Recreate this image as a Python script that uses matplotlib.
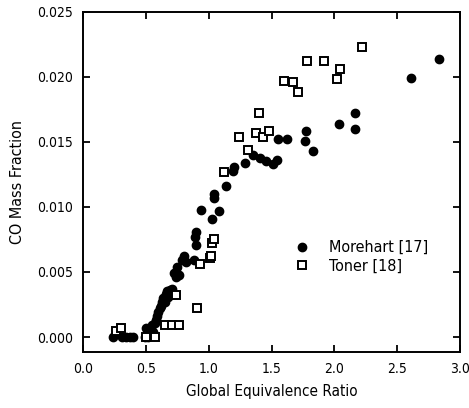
import matplotlib
matplotlib.use("Agg")
import matplotlib.pyplot as plt

# Morehart [17] (filled circles)
morehart_phi = [0.24, 0.31, 0.34, 0.37, 0.40, 0.49, 0.50, 0.51, 0.52, 0.53,
                0.55, 0.56, 0.57, 0.58, 0.59, 0.60, 0.61, 0.62, 0.63, 0.64,
                0.65, 0.66, 0.67, 0.68, 0.69, 0.71, 0.72, 0.74, 0.74, 0.75,
                0.76, 0.79, 0.80, 0.82, 0.88, 0.89, 0.90, 0.90, 0.94, 1.03,
                1.04, 1.045, 1.085, 1.14, 1.19, 1.20, 1.29, 1.355, 1.41, 1.455,
                1.51, 1.54, 1.555, 1.62, 1.765, 1.775, 1.83, 2.04, 2.165, 2.165,
                2.61, 2.83]
morehart_co = [0.0, 0.0, 0.0, 0.0, 0.0, 0.0, 0.0007, 0.0003, 0.0, 0.0006,
               0.0009, 0.0004, 0.0011, 0.0013, 0.0016, 0.0019, 0.0022, 0.0024, 0.0027, 0.0030,
               0.0027, 0.0033, 0.0035, 0.0031, 0.0036, 0.0037, 0.0049, 0.0046, 0.0050, 0.0054,
               0.0048, 0.0059, 0.0062, 0.0058, 0.0059, 0.0077, 0.0081, 0.0071, 0.0098, 0.0091,
               0.0107, 0.0110, 0.0097, 0.0116, 0.0128, 0.0131, 0.0134, 0.0140, 0.0138, 0.0135,
               0.0133, 0.0136, 0.0152, 0.0152, 0.0151, 0.0158, 0.0143, 0.0164, 0.0172, 0.0160,
               0.0199, 0.0214]

# Toner [18] (open squares)
toner_phi = [0.26, 0.30, 0.50, 0.57, 0.65, 0.71, 0.76, 0.74, 0.91, 0.93,
             1.01, 1.02, 1.03, 1.04, 1.12, 1.245, 1.31, 1.375, 1.40, 1.43,
             1.48, 1.60, 1.67, 1.71, 1.78, 1.92, 2.02, 2.045, 2.22]
toner_co = [0.0005, 0.0007, 0.0, 0.0, 0.0009, 0.0009, 0.0009, 0.0032, 0.0022, 0.0056,
            0.0061, 0.0062, 0.0072, 0.0075, 0.0127, 0.0154, 0.0144, 0.0157, 0.0172, 0.0154,
            0.0158, 0.0197, 0.0196, 0.0188, 0.0212, 0.0212, 0.0198, 0.0206, 0.0223]

x_ticks = [0.0, 0.5, 1.0, 1.5, 2.0, 2.5, 3.0]
y_ticks = [0.000, 0.005, 0.010, 0.015, 0.020, 0.025]

plt.rcParams["font.family"] = ["DejaVu Sans"]
plt.rcParams["font.stretch"] = "condensed"

fig = plt.figure(figsize=(4.69, 4.08), dpi=100)
ax = fig.add_axes([0.177, 0.137, 0.804, 0.834])

ax.plot(morehart_phi, morehart_co, "o", color="black", markersize=6,
        label="Morehart [17]")
ax.plot(toner_phi, toner_co, "s", markerfacecolor="white", markeredgecolor="black",
        markeredgewidth=1.4, markersize=5.5, label="Toner [18]")

ax.set_xlim(0, 3.0)
ax.set_ylim(-0.00116, 0.025)
ax.set_xticks(x_ticks)
ax.set_yticks(y_ticks)
ax.set_xticklabels([f"{v:.1f}" for v in x_ticks])
ax.set_yticklabels([f"{v:.3f}" for v in y_ticks])
ax.tick_params(direction="in", length=5, width=1.3, top=True, right=True,
               labelsize=10, pad=7)
for sp in ax.spines.values():
    sp.set_linewidth(1.4)

ax.set_xlabel("Global Equivalence Ratio", fontsize=11, labelpad=6)
ax.set_ylabel("CO Mass Fraction", fontsize=11.5, labelpad=9)

ax.legend(loc="center left", bbox_to_anchor=(0.522, 0.28), frameon=False,
          fontsize=11.5, handletextpad=0.7, labelspacing=0.2, borderaxespad=0)

fig.savefig("out.png", dpi=100)
